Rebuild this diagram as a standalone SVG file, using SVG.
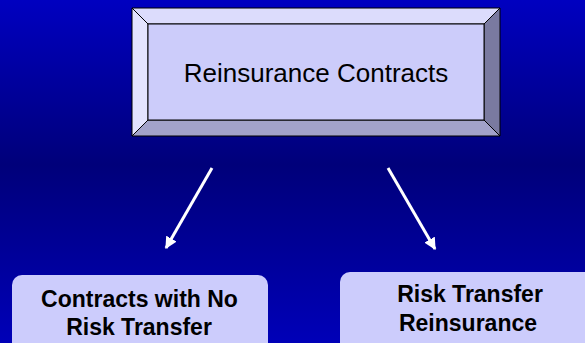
<svg xmlns="http://www.w3.org/2000/svg" width="585" height="343" viewBox="0 0 585 343">
<defs>
<linearGradient id="bg" x1="0" y1="0" x2="0" y2="1">
<stop offset="0" stop-color="#0000C0"/>
<stop offset="0.48" stop-color="#00007A"/>
<stop offset="1" stop-color="#0000B8"/>
</linearGradient>
<marker id="ah" viewBox="0 0 10 10" refX="9" refY="5" markerWidth="4" markerHeight="4" orient="auto" markerUnits="strokeWidth">
<path d="M0,0 L10,5 L0,10 Z" fill="#FFFFFF"/>
</marker>
<style>
.bev{stroke:#000;stroke-width:1;stroke-linejoin:miter}
.lbl{font-family:"Liberation Sans",Arial,sans-serif;fill:#000;text-anchor:middle}
.b{font-weight:bold;font-size:23px}
.box{fill:#CCCCFC}
.conn{stroke:#FFFFFF;stroke-width:3;fill:none;marker-end:url(#ah)}
</style>
</defs>
<rect x="0" y="0" width="585" height="343" fill="url(#bg)"/>
<g id="node-top">
<polygon class="bev" points="132,8 500,8 484,24 148,24" fill="#DCDCFC"/>
<polygon class="bev" points="132,8 148,24 148,120 132,136" fill="#E4E4FE"/>
<polygon class="bev" points="500,8 500,136 484,120 484,24" fill="#7A7AA0"/>
<polygon class="bev" points="132,136 148,120 484,120 500,136" fill="#A2A2CA"/>
<rect class="bev" x="148" y="24" width="336" height="96" fill="#CCCCFA"/>
<text class="lbl" x="316" y="82" font-size="26">Reinsurance Contracts</text>
</g>
<g id="node-left">
<rect class="box" x="12" y="275" width="256" height="80" rx="10"/>
<text class="lbl b" x="139.5" y="307">Contracts with No</text>
<text class="lbl b" x="139" y="335">Risk Transfer</text>
</g>
<g id="node-right">
<rect class="box" x="340" y="272" width="260" height="80" rx="10"/>
<text class="lbl b" x="470" y="302">Risk Transfer</text>
<text class="lbl b" x="468" y="331">Reinsurance</text>
</g>
<g id="connectors">
<line class="conn" x1="212" y1="168" x2="166" y2="248"/>
<line class="conn" x1="388" y1="168" x2="435" y2="249"/>
</g>
</svg>
